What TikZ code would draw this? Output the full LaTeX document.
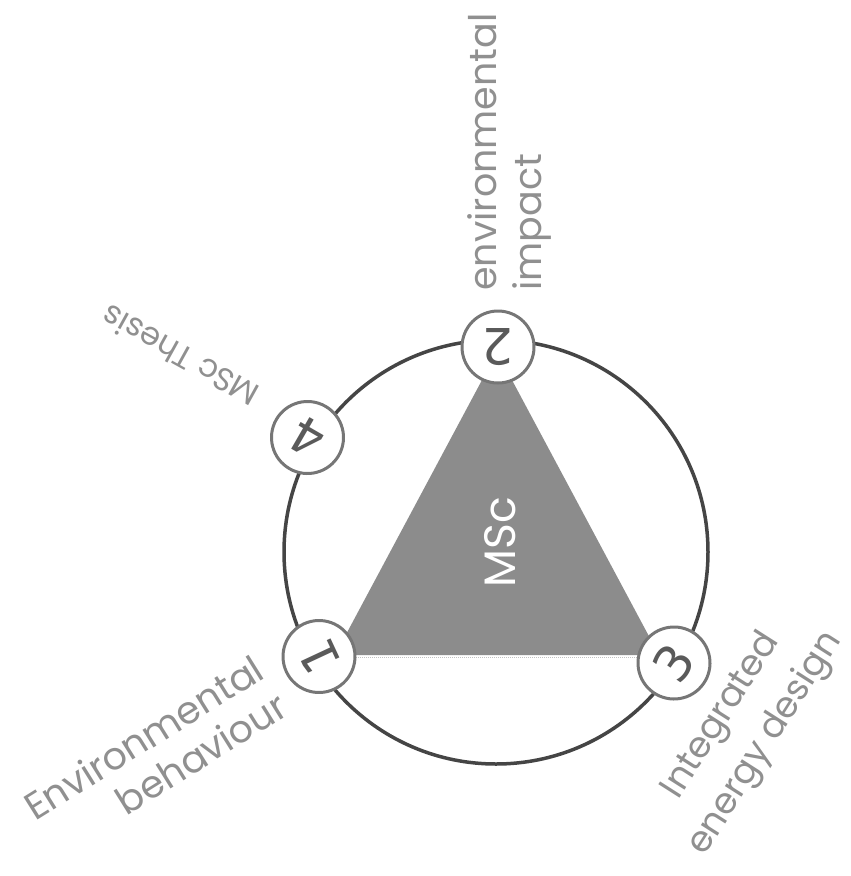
\documentclass[tikz,border=0pt]{standalone}
\usepackage{fontspec}
\setmainfont{Poppins}
\newfontfamily\digitfont{DejaVu Sans}
\definecolor{ringc}{HTML}{454545}
\definecolor{numring}{HTML}{767676}
\definecolor{numc}{HTML}{5A5A5A}
\definecolor{labc}{HTML}{909090}
\definecolor{tric}{HTML}{8C8C8C}
\definecolor{edgec}{HTML}{C4C4C4}
\begin{document}
\begin{tikzpicture}[x=1pt,y=-1pt,
  ring/.style={draw=ringc,line width=3.5pt},
  tri/.style={fill=tric},
  num/.style={circle,draw=numring,line width=3pt,fill=white,minimum size=72pt,inner sep=0pt,text=numc,font=\digitfont\fontsize{50}{56}\selectfont},
  lab/.style={text=labc,inner sep=0pt},
  ]
\useasboundingbox (0,0) rectangle (851,876);
\coordinate (c) at (496,552);
\draw[ring] (c) circle[radius=212];
\coordinate (tA) at (497,352);
\coordinate (tB) at (335,655);
\coordinate (tC) at (659,655);
\fill[tri] (tA) -- (tB) -- (tC) -- cycle;
\coordinate (eL) at (352,657.5);
\coordinate (eR) at (640,657.5);
\draw[edgec,line width=1pt,densely dotted] (eL) -- (eR);
\node[lab,text=white,rotate=90,font=\fontsize{44}{50}\selectfont] (msc) at (500,542) {MSc};
\node[num,rotate=180] (n2) at (498,347) {2};
\node[num,rotate=150] (n4) at (307.5,437.5) {4};
\node[num,rotate=115] (n1) at (319,656.5) {1};
\node[num,rotate=55] (n3) at (674,663) {3};
\node[lab,rotate=90,align=left,font=\fontsize{38}{45}\selectfont] (l2) at (509,152) {environmental\\impact};
\node[lab,rotate=32,align=right,font=\fontsize{38}{44}\selectfont] (l1) at (155,756) {Environmental\\behaviour};
\node[lab,rotate=57.5,align=center,font=\fontsize{36}{52}\selectfont] (l3) at (744,730) {Integrated\\energy design};
\node[lab,rotate=151,font=\fontsize{32}{38}\selectfont] (l4) at (180,356) {MSc Thesis};
\end{tikzpicture}
\end{document}
